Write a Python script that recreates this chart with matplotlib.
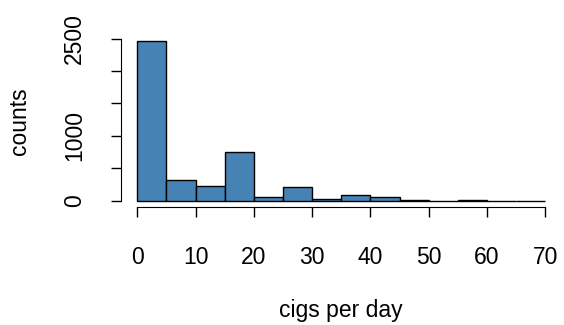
import numpy as np
import matplotlib.pyplot as plt

plt.rcParams['font.family'] = ['Liberation Sans', 'DejaVu Sans']

# histogram of cigarettes per day (bin width 5)
bin_edges = [0, 5, 10, 15, 20, 25, 30, 35, 40, 45, 50, 55, 60, 65, 70]
counts = [2466, 318, 231, 758, 62, 220, 25, 87, 62, 8, 2, 15, 2, 3]
xticks = [0, 10, 20, 30, 40, 50, 60, 70]
yticks = [0, 500, 1000, 1500, 2000, 2500]
ylabels = ["0", "", "1000", "", "", "2500"]

W, H = 564, 325
fig = plt.figure(figsize=(W/100, H/100), dpi=100)
ax = fig.add_axes([121/W, 1-207.4/H, (561.6-121)/W, (207.4-34.3)/H])

ax.bar(bin_edges[:-1], counts, width=np.diff(bin_edges), align="edge",
       color="#4682B4", edgecolor="black", linewidth=1.0)

# R-style range padding of 4%
ax.set_xlim(-2.8, 72.8)
ax.set_ylim(-0.04*max(counts), 1.04*max(counts))

for s in ["top", "right"]:
    ax.spines[s].set_visible(False)
ax.spines["left"].set_bounds(0, 2500)
ax.spines["bottom"].set_bounds(0, 70)

ax.set_xticks(xticks)
ax.set_yticks(yticks)
ax.set_yticklabels(ylabels, rotation=90, va="center")
ax.tick_params(axis="both", length=7, width=1.0, labelsize=16.5, color="black")
ax.tick_params(axis="x", pad=21)
ax.tick_params(axis="y", pad=18)

fig.text(341/W, 1-317/H, "cigs per day", fontsize=16.5, ha="center", va="baseline")
fig.text(19.5/W, 1-120.9/H, "counts", fontsize=16.5, rotation=90,
         ha="center", va="center")

plt.savefig("out.png", dpi=100)
